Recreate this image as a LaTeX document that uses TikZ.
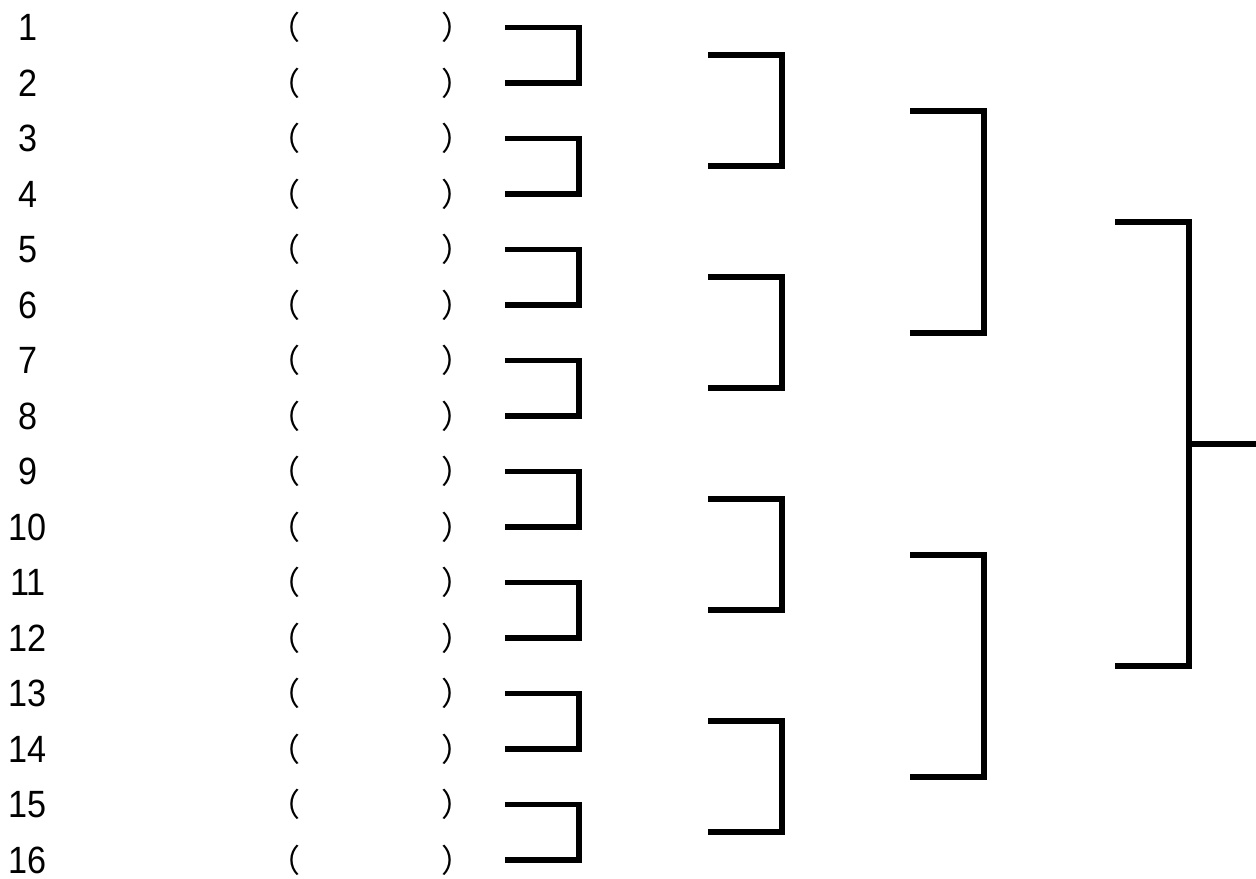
\documentclass[tikz,border=0pt]{standalone}
\usepackage{fontspec}
\setmainfont{Liberation Sans}
\newfontfamily\numfont[FakeStretch=0.9]{Liberation Sans}
\newfontfamily\jpfont{Noto Sans CJK JP}
\usepackage{tikz}
\usetikzlibrary{calc,positioning}
\tikzset{num/.style={inner sep=0pt, font=\numfont\fontsize{19}{21}\selectfont}}
\tikzset{paren/.style={inner sep=0pt, font=\jpfont\fontsize{16}{20}\selectfont}}
\tikzset{bracket/.style={draw, line width=2.85pt, line join=miter}}

\begin{document}
\begin{tikzpicture}[x=0.5pt, y=-0.5pt]
\useasboundingbox (0,0) rectangle (1256,878);
% entries
\foreach \i in {1,...,16}{
  \pgfmathsetmacro{\y}{27.5+55.5*(\i-1)}
  \node[num] (num\i) at (28,\y) {\i};
  \node[paren] (lp\i) at (284,\y) {（};
  \node[paren] (rp\i) at (457,\y) {）};
}
% brackets, round by round
\foreach \r/\xl in {1/505, 2/708, 3/910, 4/1115}{
  \pgfmathtruncatemacro{\n}{16/2^(\r-1)}
  \foreach \k in {1,...,\n}{
    \pgfmathsetmacro{\y}{27.5+55.5*((\k-1)*2^(\r-1)+(2^(\r-1)-1)/2)}
    \coordinate (a\r-\k) at (\xl,\y);
  }
  \pgfmathtruncatemacro{\m}{\n/2}
  \foreach \j in {1,...,\m}{
    \pgfmathtruncatemacro{\ta}{2*\j-1}
    \pgfmathtruncatemacro{\tb}{2*\j}
    \path[bracket] (a\r-\ta) -| ([xshift=37pt]a\r-\tb) -- (a\r-\tb);
  }
}
% final
\coordinate (final) at (1189,443.75);
\coordinate (out) at (1256,443.75);
\path[bracket] (final) -- (out);
\end{tikzpicture}
\end{document}
